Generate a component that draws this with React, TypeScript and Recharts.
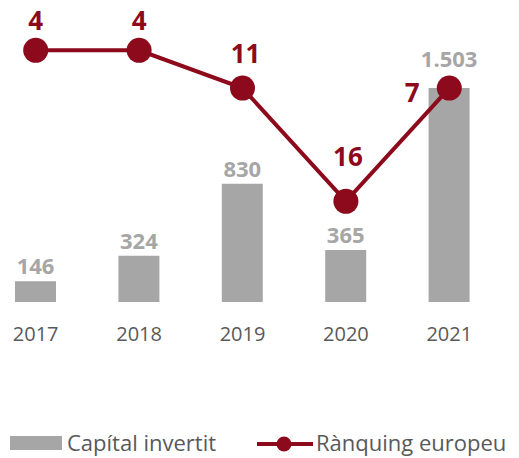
import React from 'react'
import { ComposedChart, Bar, Line, XAxis, YAxis, LabelList } from 'recharts'

// Capital invertit (M€) i rànquing europeu per any
const years = ['2017', '2018', '2019', '2020', '2021']
const capital = [146, 324, 830, 365, 1503]
const capitalLabels = ['146', '324', '830', '365', '1.503']
const ranking = [4, 4, 11, 16, 7]
// vertical placement of the ranking points as drawn in the source (inverted scale)
const rankingPlot = [4, 4, 7, 16, 7]

const BAR_COLOR = '#a6a6a6'
const LINE_COLOR = '#8c0a1c'
const TEXT_COLOR = '#595959'
const FONT = '"Open Sans", "Noto Sans", sans-serif'

// label nudges (px) per point
const barLabelGap = [7, 7, 7, 7, 21]
const rankLabelDx = [0, 0, 3, 2, -37]
const rankLabelDy = [-20, -20, -25, -35, 14]

const data = years.map((year, i) => ({
  year,
  capital: capital[i],
  capitalLabel: capitalLabels[i],
  rank: ranking[i],
  rankPos: rankingPlot[i],
}))

const BarValueLabel = (props: any) => {
  const { x, y, width, index } = props
  return (
    <text
      x={x + width / 2}
      y={y - barLabelGap[index]}
      textAnchor="middle"
      fill={BAR_COLOR}
      fontFamily={FONT}
      fontWeight={700}
      fontSize={22}
    >
      {capitalLabels[index]}
    </text>
  )
}

const RankLabel = (props: any) => {
  const { x, y, index } = props
  return (
    <text
      x={x + rankLabelDx[index]}
      y={y + rankLabelDy[index]}
      textAnchor="middle"
      fill={LINE_COLOR}
      fontFamily={FONT}
      fontWeight={700}
      fontSize={26}
    >
      {ranking[index]}
    </text>
  )
}

const legendText: React.CSSProperties = {
  position: 'absolute',
  top: 0,
  lineHeight: '28px',
  fontFamily: FONT,
  fontSize: 22,
  color: TEXT_COLOR,
  whiteSpace: 'nowrap',
}

export default function App() {
  return (
    <div style={{ position: 'fixed', left: 0, top: 0, width: 519, height: 458, background: '#fff', overflow: 'hidden' }}>
      <div style={{ position: 'absolute', left: -16, top: 0 }}>
        <ComposedChart width={517} height={458} data={data} margin={{ top: 0, right: 0, left: 0, bottom: 116 }}>
          <XAxis
            dataKey="year"
            axisLine={false}
            tickLine={false}
            height={40}
            tickMargin={19}
            tick={{ fill: TEXT_COLOR, fontSize: 20, fontFamily: FONT }}
          />
          <YAxis yAxisId="cap" hide domain={[0, 2120]} />
          <YAxis yAxisId="rank" hide reversed domain={[0, 24]} orientation="right" />
          <Bar yAxisId="cap" dataKey="capital" fill={BAR_COLOR} barSize={41} isAnimationActive={false}>
            <LabelList dataKey="capitalLabel" content={BarValueLabel} />
          </Bar>
          <Line
            yAxisId="rank"
            dataKey="rankPos"
            stroke={LINE_COLOR}
            strokeWidth={4}
            type="linear"
            dot={{ r: 12.5, fill: LINE_COLOR, stroke: LINE_COLOR, strokeWidth: 0 }}
            activeDot={false}
            isAnimationActive={false}
          >
            <LabelList dataKey="rank" content={RankLabel} />
          </Line>
        </ComposedChart>
      </div>

      {/* legend */}
      <div style={{ position: 'absolute', left: 0, top: 428, width: 519, height: 28 }}>
        <div style={{ position: 'absolute', left: 10, top: 8, width: 52, height: 14, background: BAR_COLOR }} />
        <span style={{ ...legendText, left: 67 }}>Capítal invertit</span>
        <svg width={57} height={28} style={{ position: 'absolute', left: 257, top: 1 }}>
          <line x1={0} y1={15} x2={56} y2={15} stroke={LINE_COLOR} strokeWidth={4} />
          <circle cx={27} cy={15} r={7.5} fill={LINE_COLOR} />
        </svg>
        <span style={{ ...legendText, left: 316 }}>Rànquing europeu</span>
      </div>
    </div>
  )
}
